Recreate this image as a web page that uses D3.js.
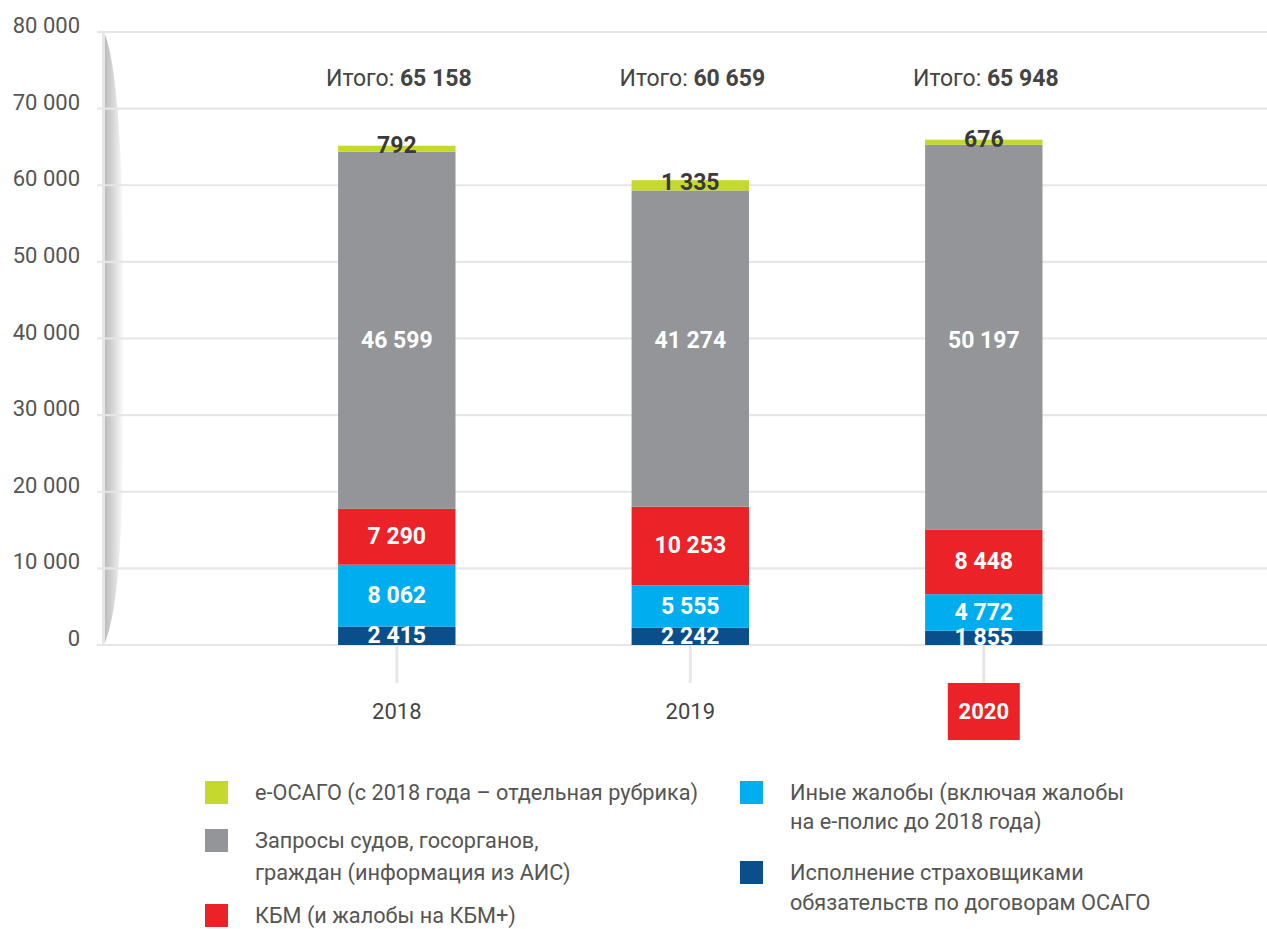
<!DOCTYPE html>
<html>
<head>
<meta charset="utf-8">
<script src="https://cdn.jsdelivr.net/npm/d3@7"></script>
<style>
  html, body { margin: 0; padding: 0; background: #fff; }
  svg { display: block; font-family: Roboto, "Noto Sans", sans-serif; }
</style>
</head>
<body>
<svg id="chart" width="1267" height="929"></svg>
<script>
// Обращения по годам (ОСАГО), стек снизу вверх
const years = ["2018", "2019", "2020"];
const highlightYear = "2020";

const ispolnenie = [2415, 2242, 1855];   // Исполнение страховщиками обязательств
const inyeZhaloby = [8062, 5555, 4772];  // Иные жалобы
const kbm = [7290, 10253, 8448];         // КБМ (и жалобы на КБМ+)
const zaprosy = [46599, 41274, 50197];   // Запросы судов, госорганов, граждан
const eosago = [792, 1335, 676];         // е-ОСАГО
const totals = [65158, 60659, 65948];

const yTicks = [0, 10000, 20000, 30000, 40000, 50000, 60000, 70000, 80000];

const seriesKeys = ["ispolnenie", "inye", "kbm", "zaprosy", "eosago"];
const seriesValues = { ispolnenie, inye: inyeZhaloby, kbm, zaprosy, eosago };
const seriesColors = {
  ispolnenie: "#0b4f8a",
  inye: "#00aeef",
  kbm: "#ec2229",
  zaprosy: "#939598",
  eosago: "#c4d82e"
};

const legendItems = [
  { key: "eosago", lines: ["е-ОСАГО (с 2018 года – отдельная рубрика)"], x: 205, y: 781, lh: 0 },
  { key: "zaprosy", lines: ["Запросы судов, госорганов,", "граждан (информация из АИС)"], x: 205, y: 829, lh: 32 },
  { key: "kbm", lines: ["КБМ (и жалобы на КБМ+)"], x: 205, y: 904, lh: 0 },
  { key: "inye", lines: ["Иные жалобы (включая жалобы", "на е-полис до 2018 года)"], x: 740, y: 781, lh: 29 },
  { key: "ispolnenie", lines: ["Исполнение страховщиками", "обязательств по договорам ОСАГО"], x: 740, y: 861, lh: 30 }
];

const svg = d3.select("#chart");
const fmt = v => d3.format(",")(v).replace(/,/g, " ");

const y = d3.scaleLinear().domain([0, 80000]).range([645, 32]);
const x = d3.scaleBand().domain(years).range([162, 1218.6]).padding(0.6);

// Тень вдоль вертикальной оси
const defs = svg.append("defs");
const grad = defs.append("linearGradient").attr("id", "axisShade")
  .attr("gradientUnits", "userSpaceOnUse")
  .attr("x1", 104).attr("x2", 124).attr("y1", 0).attr("y2", 0);
grad.append("stop").attr("offset", "0%").attr("stop-color", "#b9b9b9");
grad.append("stop").attr("offset", "45%").attr("stop-color", "#d6d6d6");
grad.append("stop").attr("offset", "80%").attr("stop-color", "#f0f0f0");
grad.append("stop").attr("offset", "100%").attr("stop-color", "#ffffff");

svg.append("path")
  .attr("d", `M104,${y(80000)} C117,${y(76000)} 124,${y(64000)} 124,${y(40000)} C124,${y(16000)} 120,${y(5000)} 104,${y(0)} Z`)
  .attr("fill", "url(#axisShade)");

// Сетка
svg.append("g").selectAll("line").data(yTicks).join("line")
  .attr("x1", 97).attr("x2", 1267)
  .attr("y1", d => y(d)).attr("y2", d => y(d))
  .attr("stroke", "#e6e6e6").attr("stroke-width", 2.2);

// Вертикальная ось
svg.append("line")
  .attr("x1", 103.5).attr("x2", 103.5).attr("y1", y(80000)).attr("y2", y(0))
  .attr("stroke", "#e6e6e6").attr("stroke-width", 3);

// Подписи оси Y
svg.append("g").selectAll("text").data(yTicks).join("text")
  .attr("x", 80).attr("y", d => y(d) + 1)
  .attr("text-anchor", "end")
  .attr("font-size", 22).attr("fill", "#555")
  .text(d => fmt(d));

// Засечки оси X
svg.append("g").selectAll("line").data(years).join("line")
  .attr("x1", d => x(d) + x.bandwidth() / 2).attr("x2", d => x(d) + x.bandwidth() / 2)
  .attr("y1", y(0)).attr("y2", 683)
  .attr("stroke", "#e6e6e6").attr("stroke-width", 3);

// Стек
const rows = years.map((yr, i) => {
  const r = { year: yr };
  seriesKeys.forEach(k => r[k] = seriesValues[k][i]);
  return r;
});
const stacked = d3.stack().keys(seriesKeys)(rows);

const gBars = svg.append("g");
stacked.forEach(layer => {
  const key = layer.key;
  const g = gBars.append("g");
  g.selectAll("rect").data(layer).join("rect")
    .attr("x", d => x(d.data.year))
    .attr("width", x.bandwidth())
    .attr("y", d => y(d[1]))
    .attr("height", d => y(d[0]) - y(d[1]))
    .attr("fill", seriesColors[key]);
});

// Подписи значений: подписи серого сегмента выровнены по одной линии
const labelY = (key, d) => {
  if (key === "zaprosy") return y(39700);
  const mid = (y(d[0]) + y(d[1])) / 2;
  return key === "eosago" ? mid - 3 : mid;
};
stacked.forEach(layer => {
  const key = layer.key;
  const isTop = key === "eosago";
  svg.append("g").selectAll("text").data(layer).join("text")
    .attr("x", d => x(d.data.year) + x.bandwidth() / 2)
    .attr("y", d => labelY(key, d))
    .attr("text-anchor", "middle")
    .attr("dominant-baseline", "central")
    .attr("font-size", 23).attr("font-weight", 700)
    .attr("fill", isTop ? "#3a3a3a" : "#ffffff")
    .text(d => fmt(d.data[key]));
});

// Итоги над столбцами
const tot = svg.append("g").selectAll("text").data(years).join("text")
  .attr("x", d => x(d) + x.bandwidth() / 2 + 2)
  .attr("y", 86)
  .attr("text-anchor", "middle")
  .attr("font-size", 23).attr("fill", "#444");
tot.append("tspan").text("Итого: ");
tot.append("tspan").attr("font-weight", 700).text((d, i) => fmt(totals[i]));

// Подписи годов
const yearG = svg.append("g").selectAll("g").data(years).join("g")
  .attr("transform", d => `translate(${x(d) + x.bandwidth() / 2},0)`);
yearG.filter(d => d === highlightYear).append("rect")
  .attr("x", -36).attr("y", 683).attr("width", 72).attr("height", 57)
  .attr("fill", "#ec2229");
yearG.append("text")
  .attr("y", 719)
  .attr("text-anchor", "middle")
  .attr("font-size", 22)
  .attr("font-weight", d => d === highlightYear ? 700 : 400)
  .attr("fill", d => d === highlightYear ? "#ffffff" : "#444")
  .text(d => d);

// Легенда
const leg = svg.append("g").selectAll("g").data(legendItems).join("g");
leg.append("rect")
  .attr("x", d => d.x).attr("y", d => d.y)
  .attr("width", 23).attr("height", 23)
  .attr("fill", d => seriesColors[d.key]);
leg.each(function(d) {
  const t = d3.select(this).append("text")
    .attr("font-size", 21.7).attr("fill", "#555");
  d.lines.forEach((ln, i) => {
    t.append("tspan")
      .attr("x", d.x + 50)
      .attr("y", d.y + 19 + i * d.lh)
      .text(ln);
  });
});
</script>
</body>
</html>
